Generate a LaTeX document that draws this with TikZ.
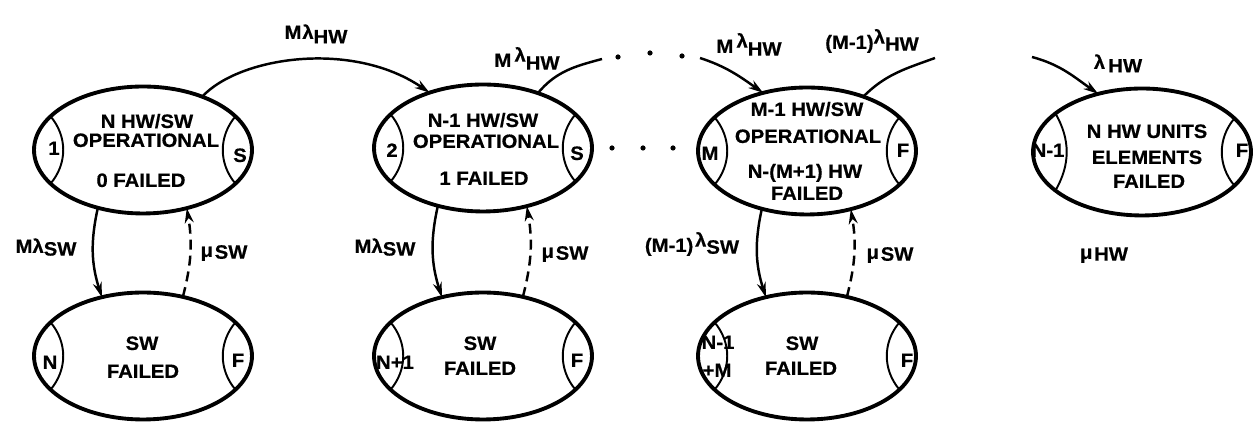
\documentclass[tikz,border=0pt]{standalone}
\usepackage{fontspec}
\setmainfont{Liberation Sans}[BoldFeatures={FakeBold=0.5,FakeStretch=1.05}]
\usetikzlibrary{shapes.geometric,arrows.meta}
\begin{document}
\begin{tikzpicture}[x=0.02cm,y=0.02cm,
  stt/.style={draw,ellipse,line width=2.2pt,minimum width=4.36cm,minimum height=2.54cm,inner sep=0pt,outer sep=0pt},
  lens/.style={line width=1.1pt},
  txt/.style={font=\fontsize{11}{13}\selectfont\bfseries,inner sep=0pt,text height=7.9pt,text depth=0pt},
  flow/.style={line width=1.4pt,-{Stealth[length=0.3cm,width=0.18cm]}},
  back/.style={flow,dash pattern=on 0.2cm off 0.12cm},
  hwline/.style={line width=1.4pt},
  dotsz/.style={radius=2.6}]
\useasboundingbox (0,0) rectangle (1254,425);

% states
\node[stt] (e1) at (143,275) {};
\node[stt] (e2) at (483,277) {};
\node[stt] (e3) at (807,274) {};
\node[stt] (e4) at (1142,273) {};
\node[stt] (b1) at (143,69) {};
\node[stt] (b2) at (483,69) {};
\node[stt] (b3) at (807,69) {};

% side compartments
\foreach \e in {e1,e2,e3,b1,b2,b3} {
  \draw[lens] (\e.160) to[out=-50,in=50] (\e.200);
}
\draw[lens] (e4.156) to[out=-60,in=60] (e4.204);
\foreach \e in {e1,e2,e3,e4,b1,b2,b3} {
  \draw[lens] (\e.20) to[out=-130,in=130] (\e.-20);
}

% state texts
\node[txt] (t1a) at (147,304) {N HW/SW};
\node[txt] (t1b) at (146,285) {OPERATIONAL};
\node[txt] (t1c) at (141,245) {0 FAILED};
\node[txt] (t2a) at (483,305) {N-1 HW/SW};
\node[txt] (t2b) at (486,284) {OPERATIONAL};
\node[txt] (t2c) at (484,247) {1 FAILED};
\node[txt] (t3a) at (807,316) {M-1 HW/SW};
\node[txt] (t3b) at (808,289) {OPERATIONAL};
\node[txt] (t3c) at (805,254) {N-(M+1) HW};
\node[txt] (t3d) at (807,232) {FAILED};
\node[txt] (t4a) at (1147,294) {N HW UNITS};
\node[txt] (t4b) at (1147,268) {ELEMENTS};
\node[txt] (t4c) at (1149,244) {FAILED};
\node[txt] (s1a) at (142,82) {SW};
\node[txt] (s1b) at (143,54) {FAILED};
\node[txt] (s2a) at (480,82) {SW};
\node[txt] (s2b) at (480,57) {FAILED};
\node[txt] (s3a) at (802,82) {SW};
\node[txt] (s3b) at (801,57) {FAILED};

% compartment labels
\node[txt] (k1l) at (54,277) {1};
\node[txt] (k1r) at (240,270) {S};
\node[txt] (k2l) at (392,275) {2};
\node[txt] (k2r) at (577,272) {S};
\node[txt] (k3l) at (710,272) {M};
\node[txt] (k3r) at (903,275) {F};
\node[txt] (k4l) at (1048,275) {N-1};
\node[txt] (k4r) at (1242,275) {F};
\node[txt] (j1l) at (50,63) {N};
\node[txt] (j1r) at (238,65) {F};
\node[txt] (j2l) at (395,63) {N+1};
\node[txt] (j2r) at (577,65) {F};
\node[txt] (j3a) at (718,83) {N-1};
\node[txt] (j3b) at (717,55) {+M};
\node[txt] (j3r) at (907,65) {F};

% hardware failure transitions
\draw[flow] (e1.42) .. controls +(37,40) and +(-77,53) .. (e2.134);
\coordinate (c2) at (602,366);
\draw[hwline] (e2.45) to[out=50,in=195] (c2);
\coordinate (c3) at (700,367);
\draw[flow] (c3) to[out=-18,in=145] (e3.127);
\coordinate (c4) at (935,367);
\draw[hwline] (e3.44) to[out=45,in=200] (c4);
\coordinate (c5) at (1032,368);
\draw[flow] (c5) to[out=-15,in=145] (e4.127);

% omitted states
\foreach \p in {(618,368),(650,372),(682,369),(612,277),(643,277),(673,277)}
  \fill \p circle[dotsz];

% software failure / repair transitions
\foreach \n in {1,2,3} {
  \draw[flow] (e\n.232) to[bend right=15] (b\n.125);
  \draw[back] (b\n.56) to[bend right=12] (e\n.-53);
}

% rates
\node[txt] (r1) at (316,393) {M\kern0.5ptλ\raisebox{-2.5pt}{HW}};
\node[txt] (r2) at (527,365) {M\,\raisebox{3pt}{λ}\raisebox{-1.5pt}{HW}};
\node[txt] (r3) at (749,379) {M\,\raisebox{3pt}{λ}\raisebox{-1.5pt}{HW}};
\node[txt] (r4) at (872,383) {(M-1)\raisebox{3pt}{λ}\raisebox{-1pt}{HW}};
\node[txt] (r5) at (1118,363) {λ\,\raisebox{-2pt}{HW}};
\node[txt] (q1) at (46,179) {Mλ\raisebox{-1.5pt}{SW}};
\node[txt] (m1) at (224,175) {μ\kern1pt\raisebox{-1pt}{SW}};
\node[txt] (q2) at (385,179) {Mλ\raisebox{-1.5pt}{SW}};
\node[txt] (m2) at (565,174) {μ\kern1pt\raisebox{-1pt}{SW}};
\node[txt] (q3) at (692,180) {(M-1)\kern1pt\raisebox{3pt}{λ}\raisebox{-1pt}{SW}};
\node[txt] (m3) at (890,173) {μ\kern1pt\raisebox{-1pt}{SW}};
\node[txt] (mh) at (1104,173) {μ\kern1pt\raisebox{-1pt}{HW}};
\end{tikzpicture}
\end{document}
